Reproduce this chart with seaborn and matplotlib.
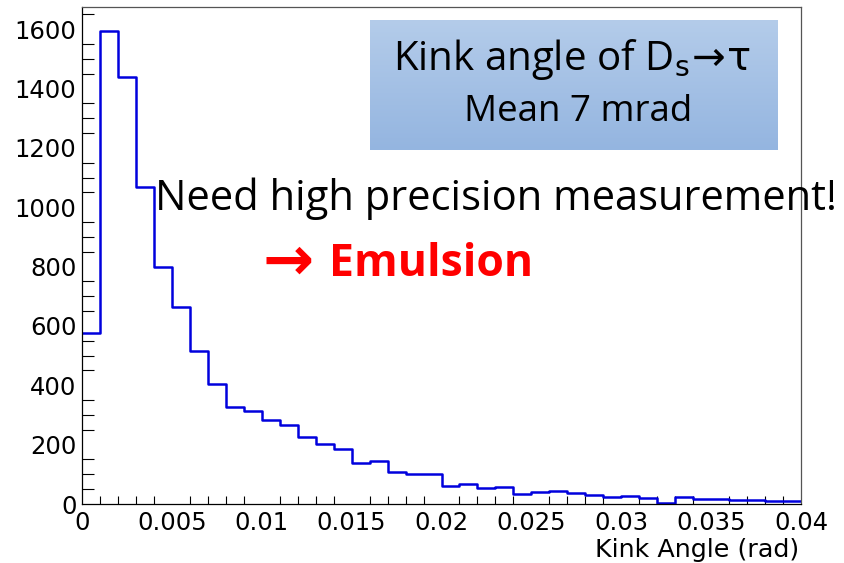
import numpy as np
import pandas as pd
import matplotlib
matplotlib.use("Agg")
import matplotlib.pyplot as plt
from matplotlib.ticker import MultipleLocator
import seaborn as sns

# Kink angle distribution, 40 bins of 1 mrad between 0 and 0.04 rad
bin_edges = [i * 0.001 for i in range(41)]
counts = [575, 1595, 1440, 1068, 799, 665, 515, 404, 327, 314,
          284, 267, 225, 203, 185, 138, 146, 107, 100, 100,
          60, 69, 53, 57, 35, 40, 45, 36, 30, 24,
          27, 19, 5, 22, 16, 16, 12, 14, 11, 10]
x_ticks = [0, 0.005, 0.01, 0.015, 0.02, 0.025, 0.03, 0.035, 0.04]
x_tick_labels = ["0", "0.005", "0.01", "0.015", "0.02", "0.025", "0.03", "0.035", "0.04"]
y_ticks = [0, 200, 400, 600, 800, 1000, 1200, 1400, 1600]

centers = [(a + b) / 2 for a, b in zip(bin_edges[:-1], bin_edges[1:])]
df = pd.DataFrame({"kink": centers, "n": counts})

sns.set_theme(style="white")
plt.rcParams["font.family"] = ["DejaVu Sans"]
plt.rcParams["mathtext.fontset"] = "dejavusans"

W, H = 844, 563
fig = plt.figure(figsize=(W / 100, H / 100), dpi=100)
fig.patch.set_facecolor("white")
ax = fig.add_axes([82 / W, 1 - 504 / H, (801 - 82) / W, (504 - 7) / H])
ax.set_facecolor("white")

sns.histplot(data=df, x="kink", weights="n", bins=bin_edges, element="step",
             fill=False, color="#0000dd", linewidth=1.8, ax=ax)

ax.set_xlim(0, 0.04)
ax.set_ylim(0, 1675)
ax.set_ylabel("")
ax.set_xlabel("")

ax.set_xticks(x_ticks)
ax.set_xticklabels(x_tick_labels)
ax.xaxis.set_minor_locator(MultipleLocator(0.001))
ax.set_yticks(y_ticks)
ax.set_yticklabels([str(v) for v in y_ticks])
ax.yaxis.set_minor_locator(MultipleLocator(50))

ax.tick_params(axis="both", which="both", direction="in", colors="black",
               labelsize=17.5, width=0.8, top=False, right=False)
ax.tick_params(axis="y", which="major", length=16, pad=4)
ax.tick_params(axis="y", which="minor", length=8.5, left=True)
ax.tick_params(axis="x", which="major", length=11, pad=5)
ax.tick_params(axis="x", which="minor", length=6, bottom=True)

for side in ["left", "bottom"]:
    ax.spines[side].set_color("black")
    ax.spines[side].set_linewidth(0.9)
for side in ["top", "right"]:
    ax.spines[side].set_color("#555555")
    ax.spines[side].set_linewidth(0.9)

fig.text(799 / W, 1 - 557 / H, "Kink Angle (rad)", ha="right", va="baseline",
         fontsize=18.3, color="black")

# Shaded info box
box = fig.add_axes([370 / W, 1 - 150 / H, (778 - 370) / W, (150 - 20) / H])
top_c = np.array([0xb4, 0xcc, 0xea]) / 255
bot_c = np.array([0x94, 0xb5, 0xe0]) / 255
t = np.linspace(0, 1, 256)[:, None]
grad = (top_c[None, :] * (1 - t) + bot_c[None, :] * t)[:, None, :]
box.imshow(np.repeat(grad, 2, axis=1), aspect="auto", extent=[0, 1, 0, 1])
box.set_axis_off()

slide_font = ["Open Sans", "DejaVu Sans"]
fig.text(572 / W, 1 - 70 / H, r"Kink angle of D$_\mathrm{s}\!\rightarrow\!\mathrm{\tau}$",
         ha="center", va="baseline", fontsize=29, family=slide_font, color="black")
fig.text(578 / W, 1 - 121 / H, "Mean 7 mrad", ha="center", va="baseline",
         fontsize=26.5, family=slide_font, color="black")

fig.text(155 / W, 1 - 210 / H, "Need high precision measurement!", ha="left", va="baseline",
         fontsize=30, family=slide_font, color="black")
fig.text(262 / W, 1 - 257 / H, "→", ha="left", va="center_baseline",
         fontsize=44, fontweight="bold", family=["DejaVu Sans"], color="#ff0000")
fig.text(329 / W, 1 - 276 / H, "Emulsion", ha="left", va="baseline",
         fontsize=32, fontweight="bold", family=slide_font, color="#ff0000")

fig.savefig("out.png", dpi=100, facecolor="white")
